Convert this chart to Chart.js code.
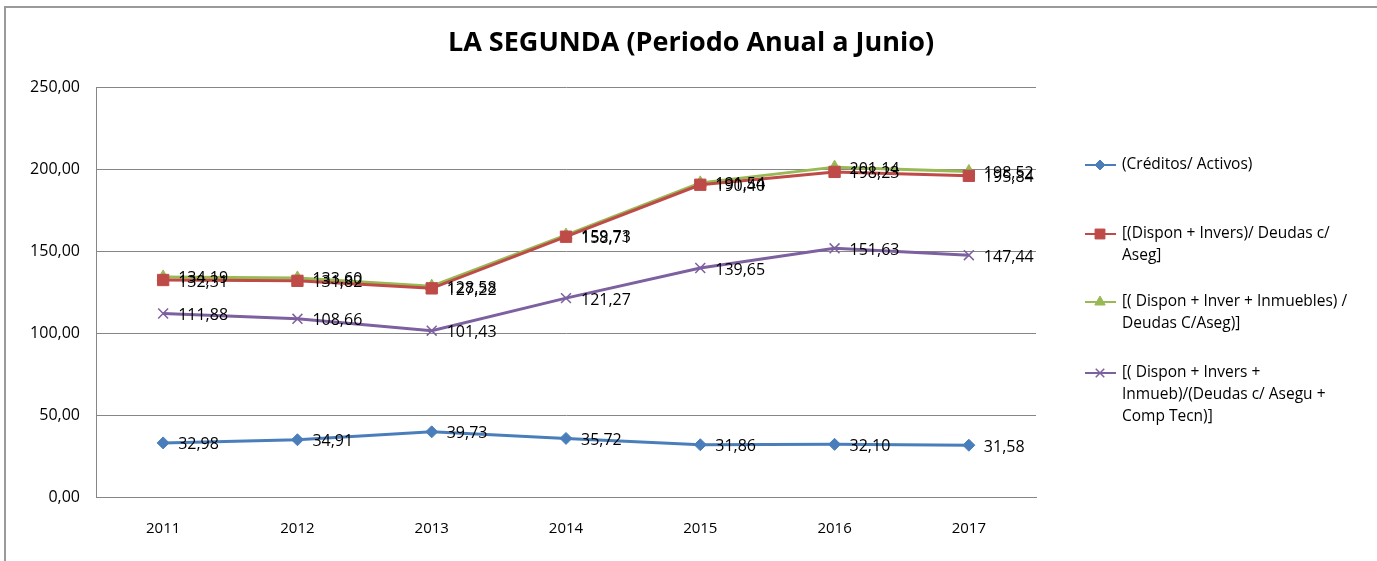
<!DOCTYPE html>
<html>
<head>
<meta charset="utf-8">
<title>LA SEGUNDA</title>
<script src="https://cdn.jsdelivr.net/npm/chart.js@4.4.1/dist/chart.umd.min.js"></script>
<style>
  html, body { margin: 0; padding: 0; background: #fff; }
  #wrap { width: 1377px; height: 561px; }
</style>
</head>
<body>
<div id="wrap"><canvas id="chart" width="1377" height="561"></canvas></div>
<script>
// Datos del gráfico
const years = ["2011", "2012", "2013", "2014", "2015", "2016", "2017"];
const creditosActivos = [32.98, 34.91, 39.73, 35.72, 31.86, 32.10, 31.58];
const disponInvers = [132.31, 131.82, 127.22, 158.71, 190.40, 198.23, 195.84];
const disponInverInmuebles = [134.19, 133.60, 128.58, 159.73, 191.54, 201.14, 198.52];
const disponInversComp = [111.88, 108.66, 101.43, 121.27, 139.65, 151.63, 147.44];
const yTicks = [0, 50, 100, 150, 200, 250];

const seriesNames = [
  ["(Créditos/ Activos)"],
  ["[(Dispon + Invers)/ Deudas c/", "Aseg]"],
  ["[( Dispon + Inver + Inmuebles) /", "Deudas C/Aseg)]"],
  ["[( Dispon + Invers +", "Inmueb)/(Deudas c/ Asegu +", "Comp Tecn)]"]
];

const FONT = "'Open Sans', 'DejaVu Sans', sans-serif";
const fmt = v => v.toFixed(2).replace(".", ",");

// Etiquetas de valores junto a cada punto
const valueLabels = {
  id: "valueLabels",
  afterDatasetsDraw(chart) {
    const ctx = chart.ctx;
    ctx.save();
    ctx.font = "16px " + FONT;
    ctx.fillStyle = "#000";
    ctx.textBaseline = "middle";
    ctx.textAlign = "left";
    chart.data.datasets.forEach((ds, i) => {
      chart.getDatasetMeta(i).data.forEach((pt, j) => {
        ctx.fillText(fmt(ds.data[j]), pt.x + 15, pt.y + 2);
      });
    });
    ctx.restore();
  }
};

// Título, marco y leyenda dibujados a mano
const decorations = {
  id: "decorations",
  afterDraw(chart) {
    const ctx = chart.ctx;
    ctx.save();
    ctx.strokeStyle = "#9a9a9a";
    ctx.lineWidth = 2;
    ctx.beginPath();
    ctx.moveTo(5, 561);
    ctx.lineTo(5, 7);
    ctx.lineTo(1377, 7);
    ctx.stroke();

    ctx.font = "bold 27px " + FONT;
    ctx.fillStyle = "#000";
    ctx.textAlign = "center";
    ctx.textBaseline = "middle";
    ctx.fillText("LA SEGUNDA (Periodo Anual a Junio)", 691, 43);

    const rows = [165, 234, 302, 373];
    ctx.textAlign = "left";
    ctx.font = "15.5px " + FONT;
    chart.data.datasets.forEach((ds, i) => {
      const y = rows[i];
      ctx.strokeStyle = ds.borderColor;
      ctx.fillStyle = ds.borderColor;
      ctx.lineWidth = 2;
      ctx.beginPath();
      ctx.moveTo(1085, y);
      ctx.lineTo(1116, y);
      ctx.stroke();
      ctx.lineWidth = ds.pointBorderWidth;
      Chart.helpers.drawPoint(ctx, {
        pointStyle: ds.pointStyle,
        radius: ds.pointRadius - 1,
        rotation: 0,
        borderWidth: ds.pointBorderWidth
      }, 1100, y);
      ctx.fillStyle = "#000";
      seriesNames[i].forEach((line, k) => {
        ctx.fillText(line, 1122, y + k * 22);
      });
    });
    ctx.restore();
  }
};

function series(label, data, color, style, radius) {
  return {
    label: label,
    data: data,
    borderColor: color,
    backgroundColor: color,
    pointBackgroundColor: color,
    pointBorderColor: color,
    pointStyle: style,
    pointRadius: radius,
    pointBorderWidth: style === "crossRot" ? 1.5 : 1,
    borderWidth: 3,
    tension: 0
  };
}

new Chart(document.getElementById("chart"), {
  type: "line",
  data: {
    labels: years,
    datasets: [
      series(seriesNames[0].join(" "), creditosActivos, "#4a7ebb", "rectRot", 6),
      series(seriesNames[1].join(" "), disponInvers, "#be4b48", "rect", 8),
      series(seriesNames[2].join(" "), disponInverInmuebles, "#98b954", "triangle", 7),
      series(seriesNames[3].join(" "), disponInversComp, "#7d60a0", "crossRot", 7)
    ]
  },
  options: {
    responsive: false,
    animation: false,
    layout: { padding: { left: 0, right: 341, top: 87, bottom: 0 } },
    plugins: {
      legend: { display: false },
      title: { display: false },
      tooltip: { enabled: false }
    },
    scales: {
      x: {
        offset: true,
        grid: { display: false, drawTicks: false },
        border: { color: "#868686", width: 1 },
        ticks: { color: "#000", font: { size: 15, family: FONT }, padding: 23 },
        afterFit(scale) { scale.height = 64; }
      },
      y: {
        min: 0,
        max: 250,
        afterBuildTicks(scale) { scale.ticks = yTicks.map(v => ({ value: v })); },
        grid: { color: "#868686", drawTicks: false },
        border: { color: "#868686", width: 1 },
        ticks: {
          color: "#000",
          font: { size: 16, family: FONT },
          padding: 16,
          callback: v => fmt(v)
        },
        afterFit(scale) { scale.width = 96; }
      }
    }
  },
  plugins: [valueLabels, decorations]
});
</script>
</body>
</html>
